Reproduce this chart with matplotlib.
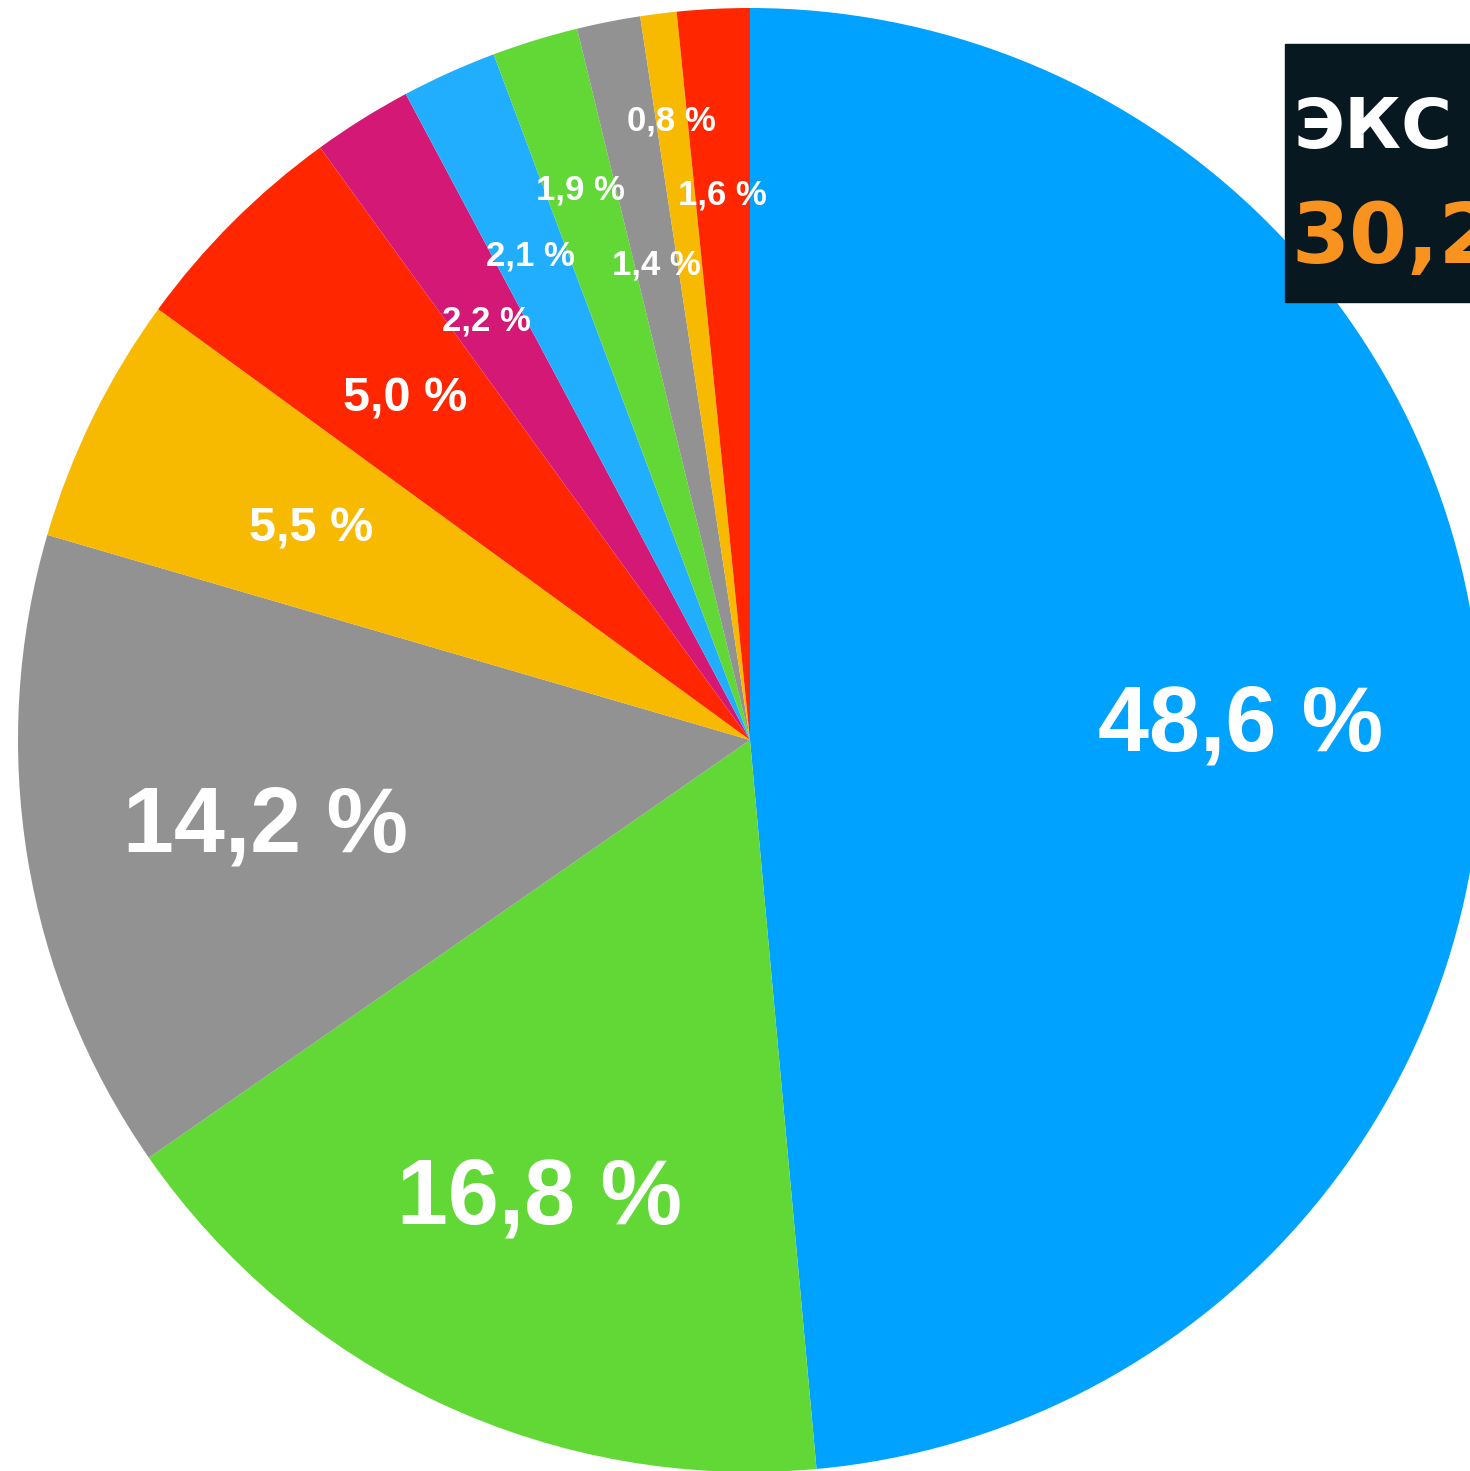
import matplotlib
matplotlib.use("Agg")
import matplotlib.pyplot as plt
import numpy as np

# slices, clockwise from 12 o'clock
shares = [48.6, 16.8, 14.2, 5.5, 5.0, 2.2, 2.1, 1.9, 1.4, 0.8, 1.6]
labels = ["48,6 %", "16,8 %", "14,2 %", "5,5 %", "5,0 %", "2,2 %",
          "2,1 %", "1,9 %", "1,4 %", "0,8 %", "1,6 %"]
colors = ["#00A2FF", "#61D836", "#929292", "#F8BA00", "#FF2600", "#D31876",
          "#22AEFF", "#61D836", "#929292", "#F8BA00", "#FF2600"]
label_r = [0.671, 0.68, 0.67, 0.668, 0.667, 0.68, 0.73, 0.79, 0.665, 0.857, 0.75]
label_size = [66, 66, 66, 35, 35, 25, 25, 25, 25, 25, 25]

box_title = "ЭКС"
box_value = "30,2"

W, H = 1470, 1471
fig = plt.figure(figsize=(W / 100, H / 100), dpi=100)
ax = fig.add_axes([0, 0, 1, 1])

cx, cy, R = 750, H - 740, 732
wedges, _ = ax.pie(shares, colors=colors, startangle=90, counterclock=False,
                   center=(cx, cy), radius=R, frame=True,
                   wedgeprops=dict(linewidth=0))

for w, lab, r, fs in zip(wedges, labels, label_r, label_size):
    mid = np.deg2rad((w.theta1 + w.theta2) / 2)
    em = fs * 100 / 72
    # put the middle of the digits on the target point
    ax.text(cx + r * R * np.cos(mid), cy + r * R * np.sin(mid) - 0.358 * em, lab,
            ha="center", va="baseline", color="white", fontsize=fs,
            fontweight="bold", family="Liberation Sans")

ax.add_patch(plt.Rectangle((1285, H - 302), 200, 258, color="#071820", zorder=5))
ax.text(1294, H - 148, box_title, ha="left", va="baseline", color="white",
        fontsize=50, fontweight="bold", family="DejaVu Sans", zorder=6)
ax.text(1291, H - 263, box_value, ha="left", va="baseline", color="#F7931E",
        fontsize=60, fontweight="bold", family="DejaVu Sans", zorder=6)

ax.set_xlim(0, W)
ax.set_ylim(0, H)
ax.set_aspect("auto")
ax.axis("off")

fig.savefig("out.png", dpi=100, facecolor="white")
